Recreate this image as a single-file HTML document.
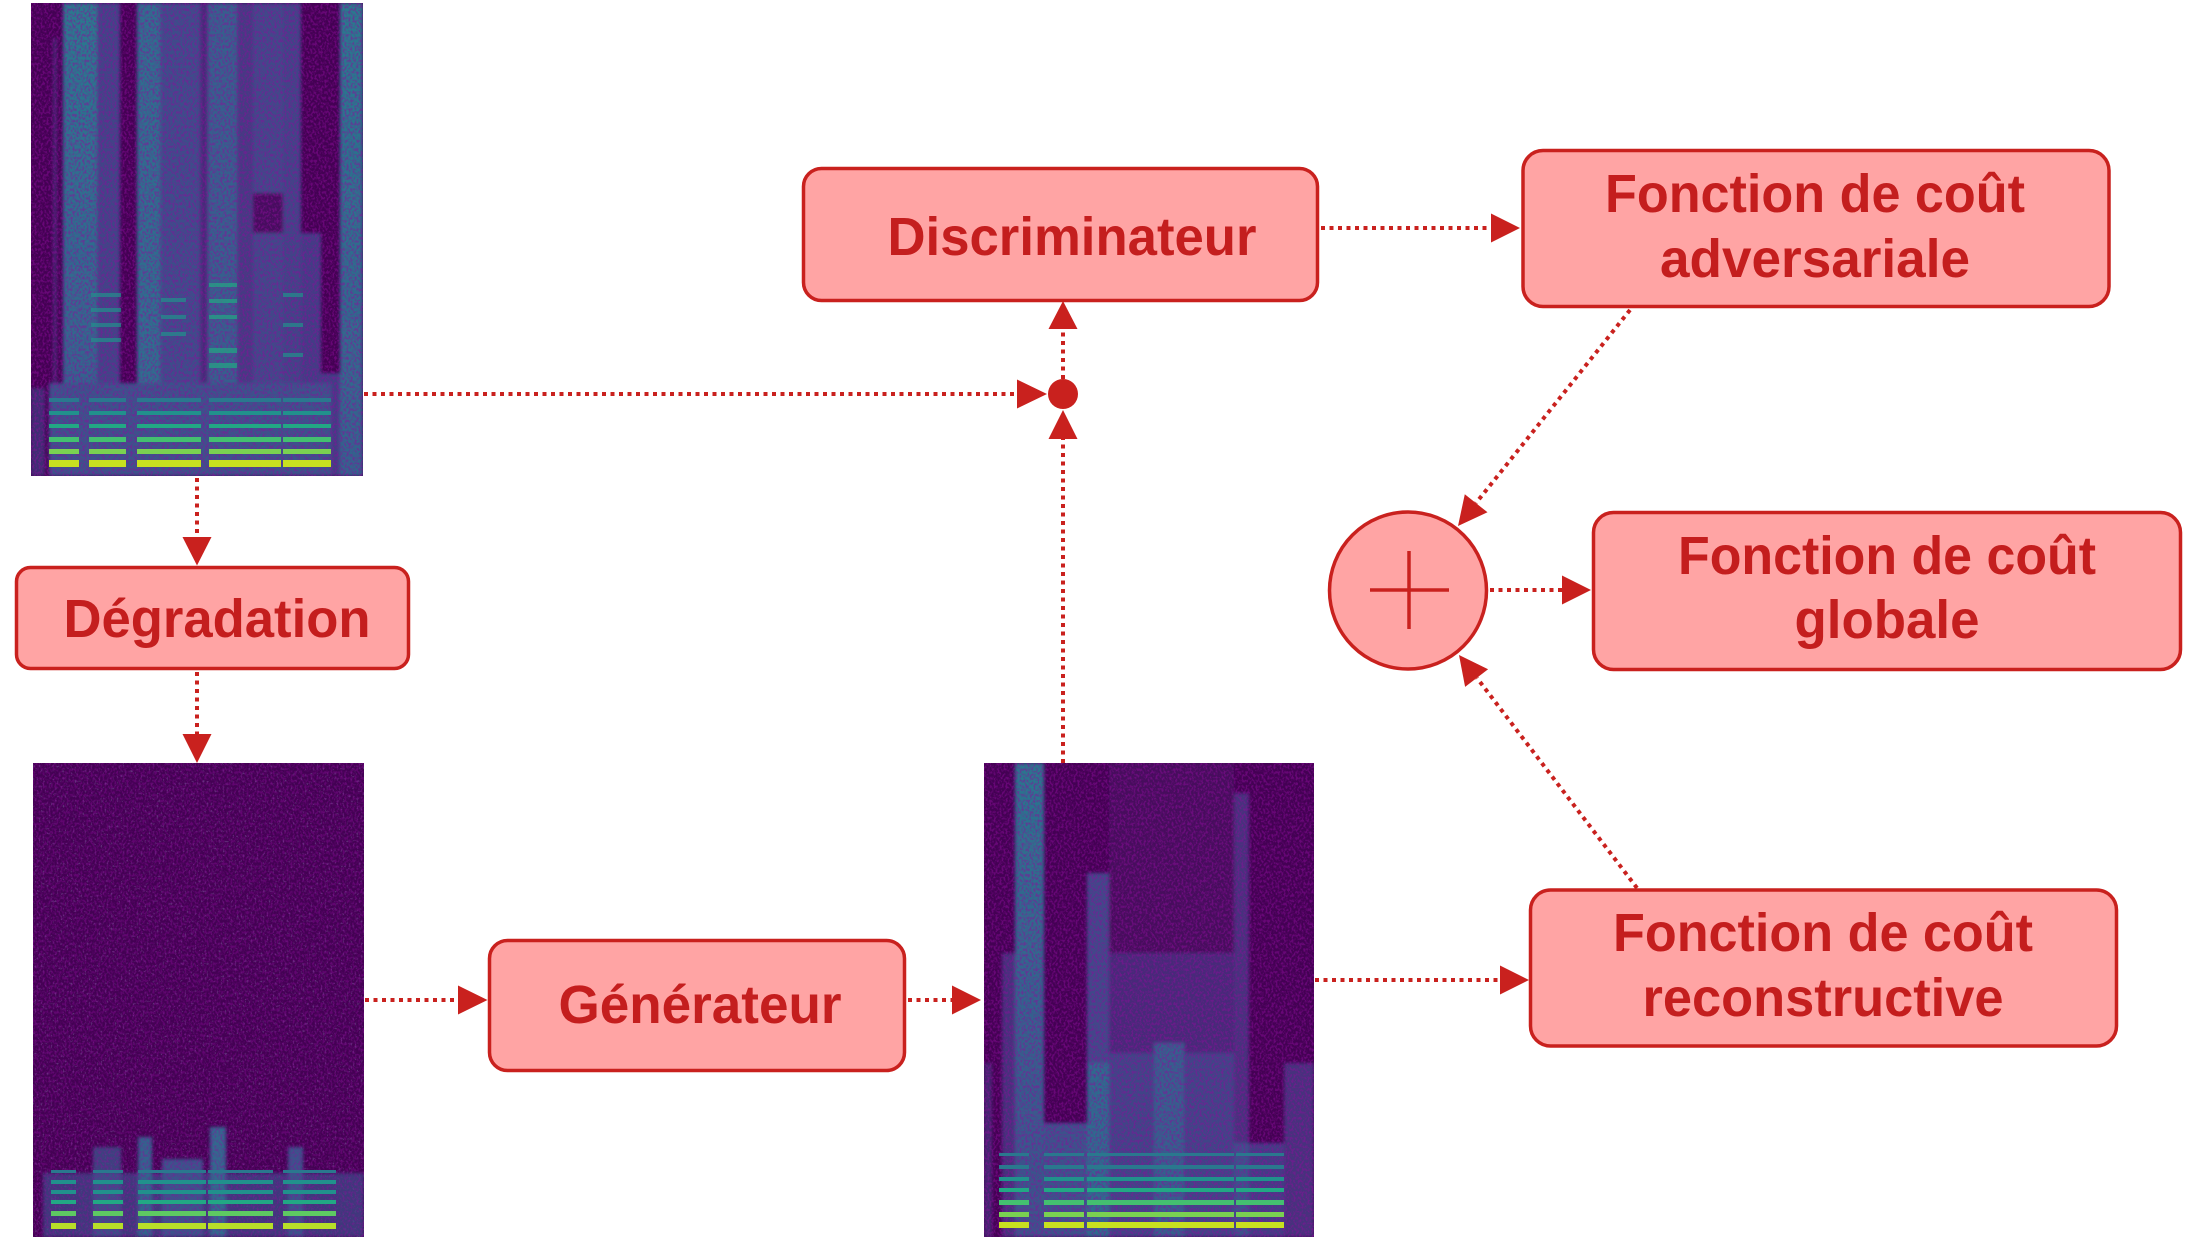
<!DOCTYPE html>
<html><head><meta charset="utf-8"><style>html,body{margin:0;padding:0;background:#fff}svg{display:block}</style></head>
<body>
<svg width="2205" height="1241" viewBox="0 0 2205 1241" xmlns="http://www.w3.org/2000/svg">
<defs>
  <filter id="nz" x="0" y="0" width="100%" height="100%">
    <feTurbulence type="fractalNoise" baseFrequency="0.5 0.35" numOctaves="2" seed="7" result="t"/>
    <feColorMatrix in="t" type="matrix" values="0 0 0 0 0.267  0 0 0 0 0.004  0 0 0 0 0.329  4.5 0 0 0 -2.0"/>
  </filter>
  <filter id="nzl" x="0" y="0" width="100%" height="100%">
    <feTurbulence type="fractalNoise" baseFrequency="0.5 0.4" numOctaves="2" seed="3" result="t"/>
    <feColorMatrix in="t" type="matrix" values="0 0 0 0 0.28  0 0 0 0 0.2  0 0 0 0 0.48  5 0 0 0 -3.0"/>
  </filter>
  <filter id="bl" x="-5%" y="-5%" width="110%" height="110%">
    <feGaussianBlur stdDeviation="1.5"/>
  </filter>
  <linearGradient id="s1a" x1="0" y1="0" x2="0" y2="1"><stop offset="0" stop-color="#2a7a8e"/><stop offset=".5" stop-color="#2f6c8e"/><stop offset="1" stop-color="#355f8d"/></linearGradient>
  <linearGradient id="s1b" x1="0" y1="0" x2="0" y2="1"><stop offset="0" stop-color="#29798e"/><stop offset="1" stop-color="#33638d"/></linearGradient>
  <linearGradient id="s3a" x1="0" y1="0" x2="0" y2="1"><stop offset="0" stop-color="#2a768e"/><stop offset=".5" stop-color="#33638d"/><stop offset="1" stop-color="#3b528b"/></linearGradient>
  <clipPath id="h1"><rect x="18" y="0" width="30" height="473"/><rect x="58" y="0" width="37" height="473"/><rect x="106" y="0" width="64" height="473"/><rect x="178" y="0" width="72" height="473"/><rect x="252" y="0" width="48" height="473"/></clipPath>
  <clipPath id="h2"><rect x="18" y="0" width="25" height="474"/><rect x="60" y="0" width="30" height="474"/><rect x="105" y="0" width="68" height="474"/><rect x="175" y="0" width="65" height="474"/><rect x="250" y="0" width="53" height="474"/></clipPath>
  <clipPath id="h3"><rect x="15" y="0" width="30" height="474"/><rect x="60" y="0" width="40" height="474"/><rect x="103" y="0" width="147" height="474"/><rect x="252" y="0" width="48" height="474"/></clipPath>
</defs>

<!-- Spectrogram 1 -->
<svg x="31" y="3" width="332" height="473" viewBox="0 0 332 473" overflow="hidden">
  <rect width="332" height="473" fill="#440154"/>
  <g filter="url(#bl)">
  <rect x="0" y="385" width="14" height="88" fill="#3e4a89" opacity=".6"/>
  <rect x="22" y="35" width="4" height="380" fill="#46337e" opacity=".7"/>
  <rect x="32" y="0" width="34" height="473" fill="url(#s1a)"/>
  <rect x="66" y="0" width="23" height="473" fill="#414487"/>
  <rect x="89" y="380" width="17" height="93" fill="#3b528b"/>
  <rect x="106" y="0" width="23" height="473" fill="#2e6e8e"/>
  <rect x="129" y="0" width="40" height="473" fill="#3d4e8a"/>
  <rect x="169" y="0" width="8" height="473" fill="#472c7a"/>
  <rect x="177" y="0" width="29" height="473" fill="#34618d"/>
  <rect x="206" y="0" width="16" height="473" fill="#443a83"/>
  <rect x="222" y="0" width="30" height="473" fill="#3f4889"/>
  <rect x="222" y="190" width="30" height="40" fill="#46105f"/>
  <rect x="252" y="0" width="18" height="473" fill="#414487"/>
  <rect x="270" y="230" width="20" height="243" fill="#433e85"/>
  <rect x="290" y="370" width="19" height="103" fill="#433e85"/>
  <rect x="309" y="0" width="23" height="473" fill="url(#s1b)"/>
  <rect x="18" y="380" width="282" height="93" fill="#3b528b"/>
  </g>
  <rect width="332" height="473" filter="url(#nz)" opacity=".5"/>
  <g opacity=".7">
    <rect x="60" y="290" width="30" height="4" fill="#21918c"/><rect x="60" y="305" width="30" height="4" fill="#21918c"/><rect x="60" y="320" width="30" height="4" fill="#21918c"/><rect x="60" y="335" width="30" height="4" fill="#21918c"/>
    <rect x="130" y="295" width="25" height="4" fill="#21918c"/><rect x="130" y="312" width="25" height="4" fill="#21918c"/><rect x="130" y="329" width="25" height="4" fill="#21918c"/>
    <rect x="178" y="280" width="28" height="4" fill="#22a884"/><rect x="178" y="296" width="28" height="4" fill="#22a884"/><rect x="178" y="312" width="28" height="4" fill="#22a884"/><rect x="178" y="345" width="28" height="5" fill="#22a884"/><rect x="178" y="360" width="28" height="5" fill="#22a884"/>
    <rect x="252" y="290" width="20" height="4" fill="#21918c"/><rect x="252" y="320" width="20" height="4" fill="#21918c"/><rect x="252" y="350" width="20" height="4" fill="#21918c"/>
  </g>
  <g clip-path="url(#h1)">
    <rect x="0" y="395" width="332" height="4" fill="#2a788e"/>
    <rect x="0" y="408" width="332" height="4" fill="#21918c"/>
    <rect x="0" y="421" width="332" height="4" fill="#22a884"/>
    <rect x="0" y="434" width="332" height="5" fill="#44bf70"/>
    <rect x="0" y="446" width="332" height="5" fill="#7ad151"/>
    <rect x="0" y="457" width="332" height="7" fill="#c8e020"/>
  </g>
</svg>

<!-- Spectrogram 2 -->
<svg x="33" y="763" width="331" height="474" viewBox="0 0 331 474" overflow="hidden">
  <rect width="331" height="474" fill="#440154"/>
  <rect width="331" height="474" filter="url(#nzl)" opacity=".4"/>
  <g filter="url(#bl)">
  <rect x="10" y="410" width="321" height="64" fill="#3e4a89" opacity=".75"/>
  <rect x="60" y="384" width="28" height="90" fill="#3b528b" opacity=".8"/>
  <rect x="105" y="374" width="14" height="100" fill="#33638d"/>
  <rect x="129" y="396" width="41" height="78" fill="#3b528b"/>
  <rect x="177" y="364" width="16" height="110" fill="#31688e"/>
  <rect x="255" y="384" width="15" height="90" fill="#3b528b"/>
  </g>
  <rect width="331" height="474" filter="url(#nz)" opacity=".4"/>
  <g clip-path="url(#h2)">
    <rect x="0" y="407" width="331" height="3" fill="#2a788e"/>
    <rect x="0" y="417" width="331" height="4" fill="#21918c"/>
    <rect x="0" y="427" width="331" height="4" fill="#21918c"/>
    <rect x="0" y="437" width="331" height="4" fill="#22a884"/>
    <rect x="0" y="448" width="331" height="5" fill="#5ec962"/>
    <rect x="0" y="460" width="331" height="6" fill="#b8de29"/>
  </g>
</svg>

<!-- Spectrogram 3 -->
<svg x="984" y="763" width="330" height="474" viewBox="0 0 330 474" overflow="hidden">
  <rect width="330" height="474" fill="#440154"/>
  <g filter="url(#bl)">
  <rect x="18" y="190" width="13" height="284" fill="#45327c"/>
  <rect x="0" y="300" width="8" height="174" fill="#433e85" opacity=".6"/>
  <rect x="31" y="0" width="29" height="474" fill="url(#s3a)"/>
  <rect x="60" y="360" width="43" height="114" fill="#3b528b"/>
  <rect x="103" y="110" width="22" height="190" fill="#3f4889"/>
  <rect x="103" y="300" width="22" height="174" fill="#2f6b8e"/>
  <rect x="125" y="0" width="125" height="190" fill="#460a5d"/>
  <rect x="125" y="190" width="125" height="100" fill="#472a79"/>
  <rect x="125" y="290" width="125" height="184" fill="#414487"/>
  <rect x="170" y="280" width="30" height="194" fill="#355f8d"/>
  <rect x="250" y="30" width="15" height="350" fill="#46307d"/>
  <rect x="250" y="380" width="15" height="94" fill="#3b528b"/>
  <rect x="265" y="380" width="35" height="94" fill="#433e85"/>
  <rect x="300" y="300" width="30" height="174" fill="#46307d"/>
  </g>
  <rect width="330" height="474" filter="url(#nz)" opacity=".5"/>
  <g clip-path="url(#h3)">
    <rect x="0" y="390" width="330" height="3" fill="#2a788e"/>
    <rect x="0" y="402" width="330" height="4" fill="#2a788e"/>
    <rect x="0" y="414" width="330" height="4" fill="#21918c"/>
    <rect x="0" y="425" width="330" height="4" fill="#22a884"/>
    <rect x="0" y="437" width="330" height="5" fill="#44bf70"/>
    <rect x="0" y="449" width="330" height="5" fill="#7ad151"/>
    <rect x="0" y="459" width="330" height="6" fill="#c8e020"/>
  </g>
</svg>

<!-- Connectors -->
<g stroke="#c9211e" stroke-width="4" stroke-dasharray="4 4.5" fill="none">
  <line x1="197" y1="478" x2="197" y2="537"/>
  <line x1="197" y1="672" x2="197" y2="734"/>
  <line x1="365" y1="1000" x2="458" y2="1000"/>
  <line x1="908" y1="1000" x2="952" y2="1000"/>
  <line x1="1315" y1="980" x2="1500" y2="980"/>
  <line x1="1321" y1="228" x2="1491" y2="228"/>
  <line x1="1490" y1="590" x2="1562" y2="590"/>
  <line x1="364" y1="394" x2="1017" y2="394"/>
  <line x1="1063" y1="379" x2="1063" y2="329"/>
  <line x1="1063" y1="763" x2="1063" y2="439"/>
  <line x1="1630" y1="310" x2="1476" y2="503"/>
  <line x1="1637" y1="888" x2="1477" y2="678"/>
</g>
<g fill="#c9211e">
  <polygon points="182.5,537 211.5,537 197,565.5"/>
  <polygon points="182.5,734 211.5,734 197,763"/>
  <polygon points="458,985.5 458,1014.5 487.5,1000"/>
  <polygon points="952,985.5 952,1014.5 981,1000"/>
  <polygon points="1500,965.5 1500,994.5 1529,980"/>
  <polygon points="1491,213.5 1491,242.5 1520,228"/>
  <polygon points="1562,575.5 1562,604.5 1591,590"/>
  <polygon points="1017,379.5 1017,408.5 1047,394"/>
  <polygon points="1048.5,329 1077.5,329 1063,301"/>
  <polygon points="1048.5,439 1077.5,439 1063,410"/>
  <polygon points="1487.5,512.3 1464.8,494.3 1458,526"/>
  <polygon points="1488.1,669.3 1465.1,686.9 1459,655"/>
  <circle cx="1063" cy="394" r="15"/>
</g>

<!-- Nodes -->
<g fill="#ffa4a4" stroke="#c9211e" stroke-width="3.5">
  <rect x="803.5" y="168.5" width="514" height="132" rx="18"/>
  <rect x="1523" y="150.5" width="586" height="156" rx="20"/>
  <rect x="1593.5" y="512.5" width="587" height="157" rx="20"/>
  <rect x="1530.5" y="890" width="586" height="156" rx="20"/>
  <rect x="16.5" y="567.5" width="392" height="101" rx="14"/>
  <rect x="489.5" y="940.5" width="415" height="130" rx="18"/>
  <circle cx="1408" cy="590.5" r="78.5"/>
</g>
<g stroke="#c9211e" stroke-width="3.5">
  <line x1="1370" y1="590" x2="1449" y2="590"/>
  <line x1="1409" y1="551" x2="1409" y2="629"/>
</g>

<g fill="#c41e1e" font-family="'Liberation Sans', Arial, sans-serif" font-weight="bold" font-size="54" text-anchor="middle">
  <text x="1072" y="255" textLength="369" lengthAdjust="spacingAndGlyphs">Discriminateur</text>
  <text x="217" y="637" textLength="307" lengthAdjust="spacingAndGlyphs">Dégradation</text>
  <text x="700" y="1023" textLength="283" lengthAdjust="spacingAndGlyphs">Générateur</text>
  <text x="1815" y="212" textLength="420" lengthAdjust="spacingAndGlyphs">Fonction de coût</text>
  <text x="1815" y="277" textLength="310" lengthAdjust="spacingAndGlyphs">adversariale</text>
  <text x="1887" y="574" textLength="418" lengthAdjust="spacingAndGlyphs">Fonction de coût</text>
  <text x="1887" y="638" textLength="185" lengthAdjust="spacingAndGlyphs">globale</text>
  <text x="1823" y="951" textLength="420" lengthAdjust="spacingAndGlyphs">Fonction de coût</text>
  <text x="1823" y="1016" textLength="361" lengthAdjust="spacingAndGlyphs">reconstructive</text>
</g>
</svg>
</body></html>
